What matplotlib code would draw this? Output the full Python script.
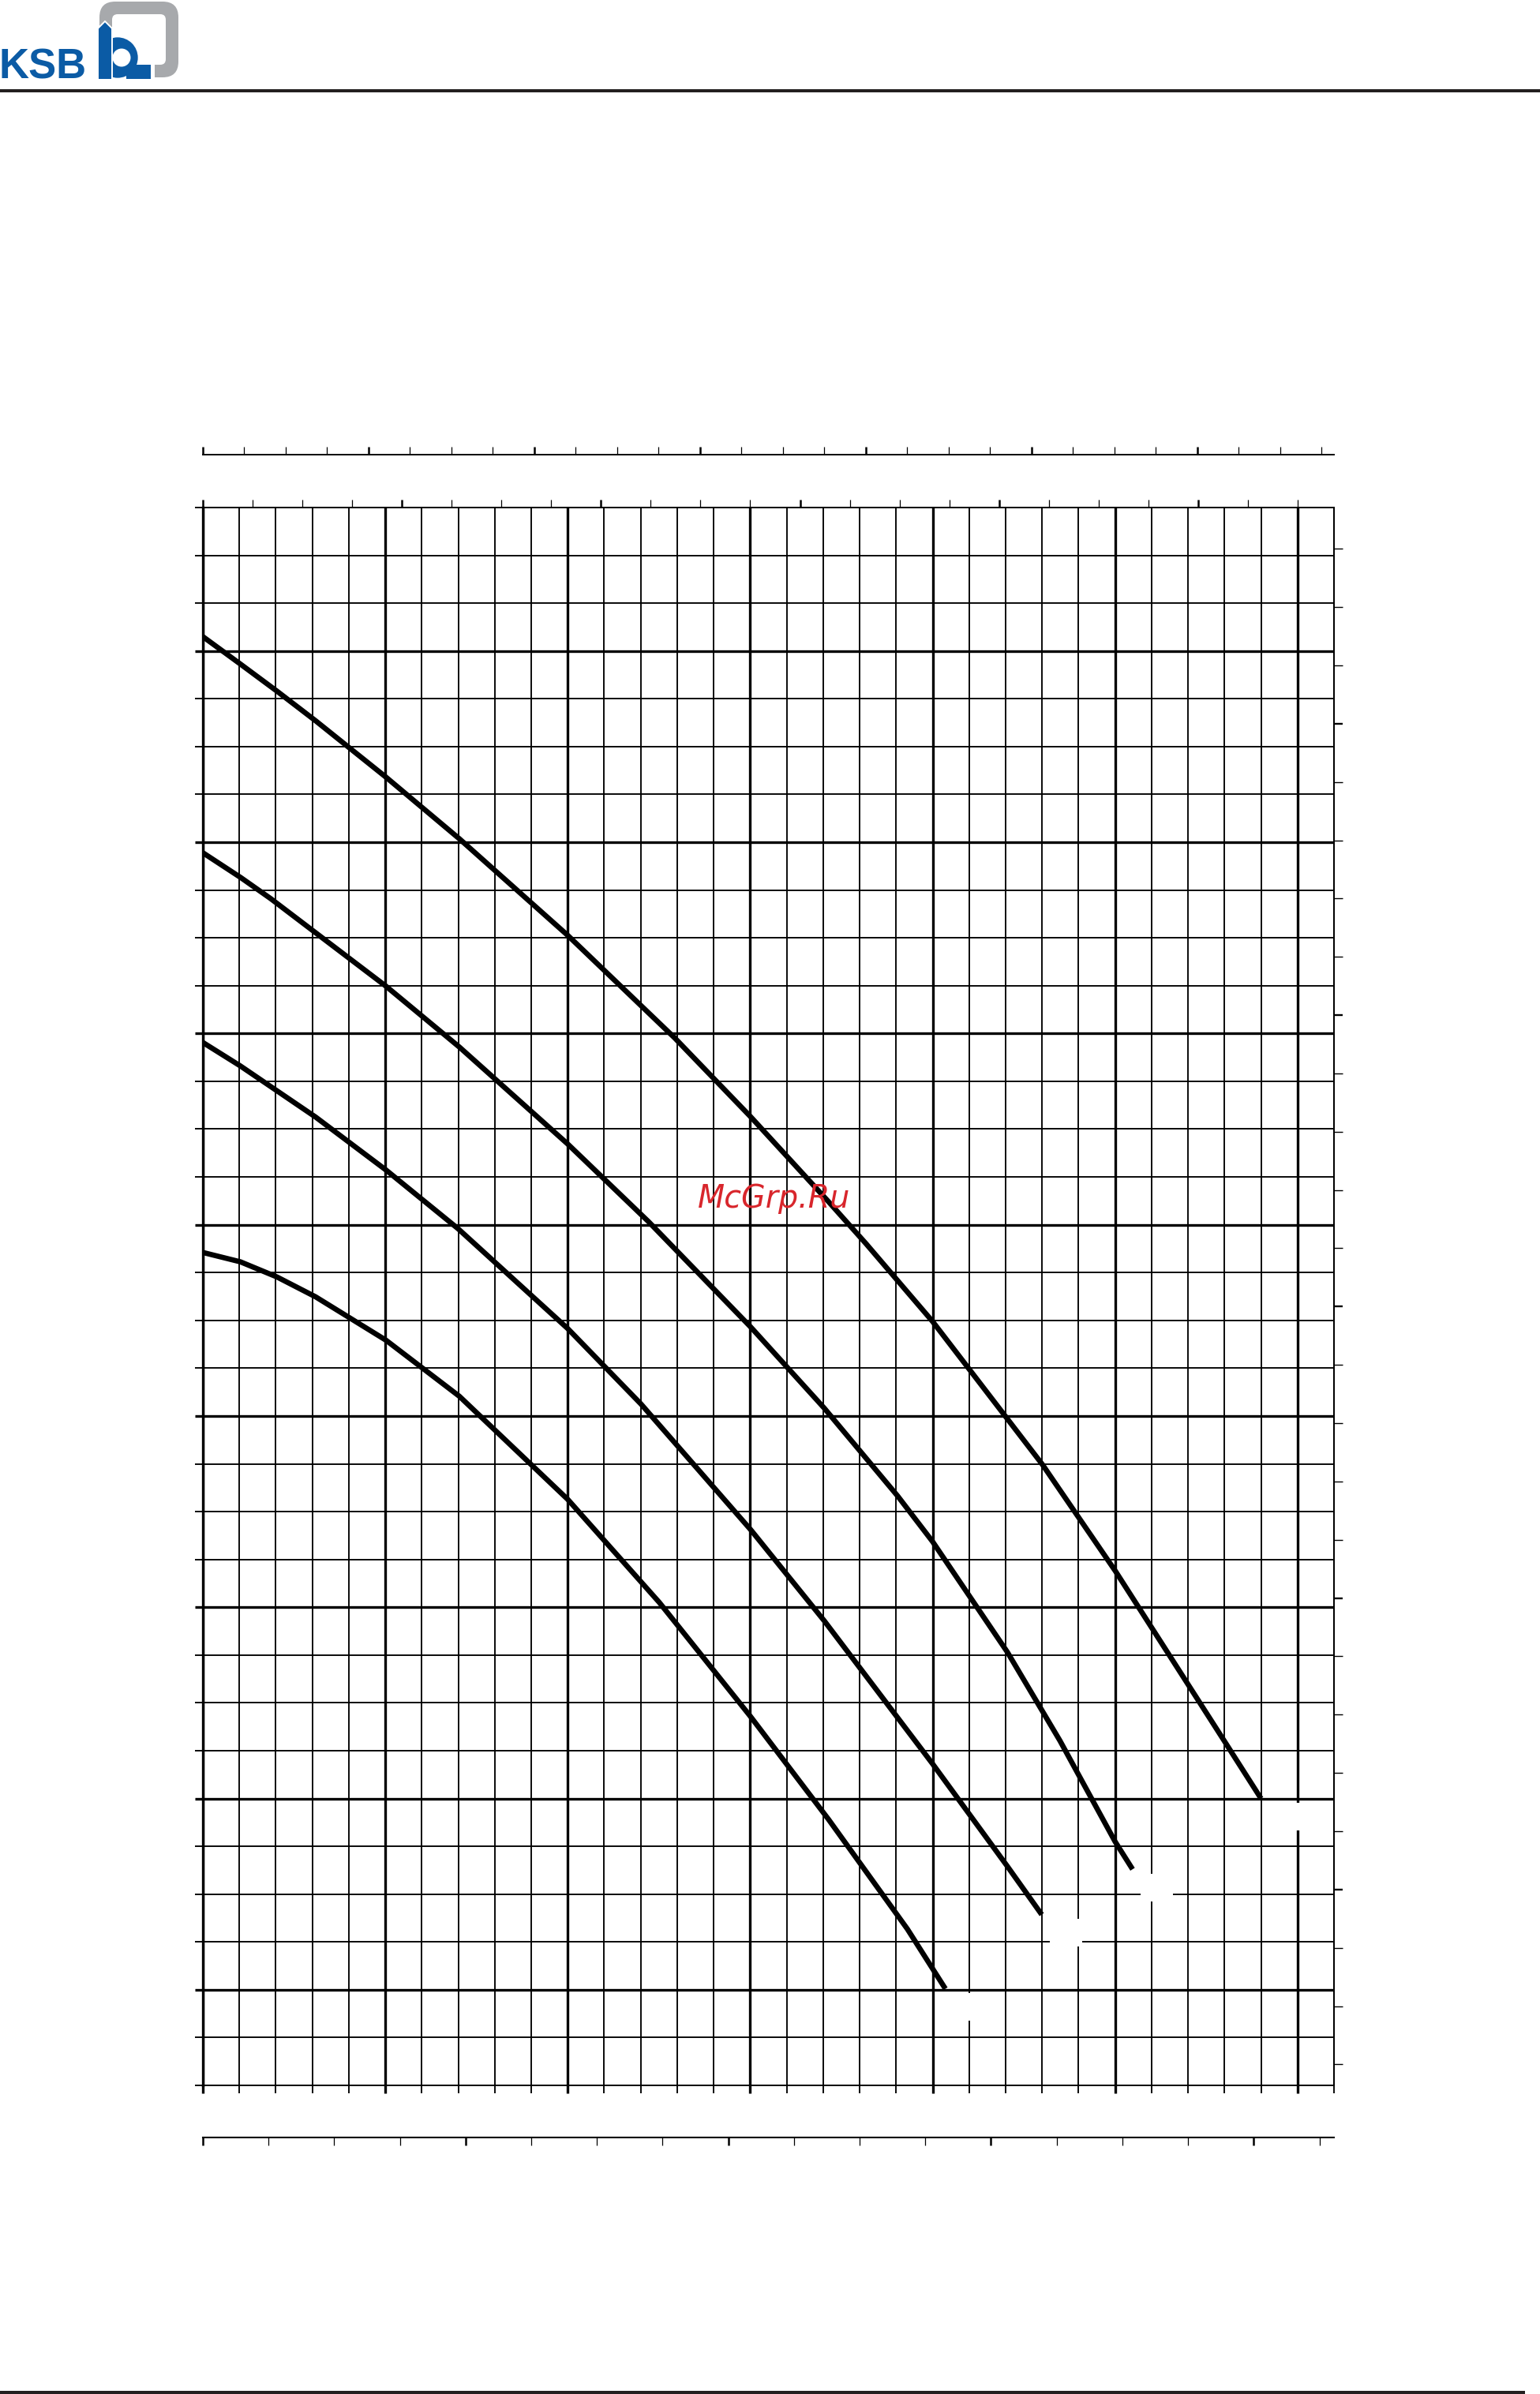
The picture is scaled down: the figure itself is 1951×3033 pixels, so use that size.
import matplotlib
matplotlib.use("Agg")
import matplotlib.pyplot as plt
from matplotlib.patches import Rectangle, FancyBboxPatch, Polygon, Circle

# pump curves, flow Q [m3/h] against head H [m]
q1 = [0, 1.03, 2.03, 3.09, 5.02, 7.03, 10.0, 12.51, 15.02, 17.15, 19.31, 20.35]
h1 = [48.55, 48.06, 47.27, 46.23, 43.96, 41.03, 35.64, 30.25, 24.26, 18.9, 13.17, 10.05]

q2 = [0, 1.03, 3.09, 5.02, 6.99, 10.0, 12.01, 15.02, 17.03, 20.0, 22.05, 22.99]
h2 = [59.53, 58.3, 55.63, 52.86, 49.8, 44.57, 40.62, 34.04, 29.29, 21.81, 16.45, 13.93]

q3 = [0, 1.04, 1.86, 5.02, 7.03, 10.0, 12.22, 15.02, 17.03, 19.04, 20.0, 22.05, 23.49, 25.0, 25.48]
h3 = [69.45, 68.15, 67.05, 62.47, 59.29, 54.22, 50.15, 44.64, 40.41, 35.82, 33.43, 27.65, 23.02, 17.75, 16.3]

q4 = [0, 1.04, 2.03, 3.09, 5.02, 7.03, 10.0, 12.93, 15.02, 16.14, 17.15, 18.17, 20.0, 23.01, 25.02, 27.97, 29.0]
h4 = [80.75, 79.3, 77.9, 76.35, 73.4, 70.18, 65.13, 59.77, 55.63, 53.3, 51.2, 49.02, 44.94, 37.46, 31.86, 23.08, 20.0]

curves = [(q1, h1), (q2, h2), (q3, h3), (q4, h4)]

q_max = 31
h_min, h_max = 5, 87.5

# unit conversions for the extra scales
def m3h_to_usgpm(q): return q * 4.402868
def usgpm_to_m3h(g): return g / 4.402868
def m3h_to_impgpm(q): return q * 3.666154
def impgpm_to_m3h(g): return g / 3.666154
def m3h_to_ls(q): return q / 3.6
def ls_to_m3h(l): return l * 3.6
def m_to_ft(h): return h * 3.28084
def ft_to_m(f): return f / 3.28084

W, H = 1951, 3033
fig = plt.figure(figsize=(W / 100, H / 100), dpi=100)

L, R, T, B = 257, 1690, 643, 2642
ax = fig.add_axes([L / W, (H - B) / H, (R - L) / W, (B - T) / H])
ax.set_xlim(0, q_max)
ax.set_ylim(h_min, h_max)

major_w, minor_w = 2.4, 1.35
ax.set_xticks(range(0, 31, 5))
ax.set_xticks([i for i in range(32) if i % 5], minor=True)
ax.set_yticks(range(10, 81, 10))
ax.set_yticks([h_min + 2.5 * k for k in range(34) if (h_min + 2.5 * k) % 10], minor=True)
ax.grid(which="major", color="black", lw=major_w)
ax.grid(which="minor", color="black", lw=minor_w)
ax.set_axisbelow(True)
ax.tick_params(which="both", direction="out", length=7.2,
               labelbottom=False, labelleft=False, color="black")
ax.tick_params(which="major", width=major_w)
ax.tick_params(which="minor", width=minor_w)
for s in ax.spines.values():
    s.set_linewidth(minor_w)
ax.spines["left"].set_linewidth(major_w)

# blanked label spots next to the curve ends
box_dx, box_dy, box_w, box_h = 0.227, -1.6725, 0.887, 1.445
for q, h in curves:
    ax.add_patch(Rectangle((q[-1] + box_dx, h[-1] + box_dy), box_w, box_h,
                           fc="white", ec="none", zorder=1.5))

for q, h in curves:
    ax.plot(q, h, color="black", lw=4.8, solid_capstyle="butt",
            solid_joinstyle="round", zorder=3)

# extra scales
def style_sec(sa, axis, majors, minors, length, wmaj, wmin, spine_w):
    if axis == "x":
        sa.set_xticks(majors)
        sa.set_xticks(minors, minor=True)
    else:
        sa.set_yticks(majors)
        sa.set_yticks(minors, minor=True)
    sa.tick_params(which="both", direction="out", length=length,
                   labeltop=False, labelbottom=False, labelright=False, labelleft=False)
    sa.tick_params(which="major", width=wmaj)
    sa.tick_params(which="minor", width=wmin)
    for s in sa.spines.values():
        s.set_linewidth(spine_w)

us = ax.secondary_xaxis(1 + 67 / (B - T), functions=(m3h_to_usgpm, usgpm_to_m3h))
style_sec(us, "x", list(range(0, 121, 20)), [g for g in range(0, 136, 5) if g % 20],
          7.2, 1.8, 0.9, 1.4)

imp = ax.secondary_xaxis("top", functions=(m3h_to_impgpm, impgpm_to_m3h))
style_sec(imp, "x", list(range(0, 101, 20)), [g for g in range(0, 111, 5) if g % 20],
          7.2, 1.8, 0.9, minor_w)

ls = ax.secondary_xaxis(-66 / (B - T), functions=(m3h_to_ls, ls_to_m3h))
style_sec(ls, "x", [0, 2, 4, 6, 8], [k * 0.5 for k in range(18) if k % 4],
          7.2, 1.8, 0.9, 1.5)

ft = ax.secondary_yaxis("right", functions=(m_to_ft, ft_to_m))
style_sec(ft, "y", list(range(50, 251, 50)), [f for f in range(20, 281, 10) if f % 50],
          7.9, 1.7, 1.0, minor_w)

# page decoration: header, logo, footer, watermark
ov = fig.add_axes([0, 0, 1, 1])
ov.set_xlim(0, W)
ov.set_ylim(H, 0)
ov.axis("off")
ov.patch.set_visible(False)

dark = "#231f20"
ksb_blue = "#0b5ba5"
ksb_grey = "#a7a9ac"
ov.add_patch(Rectangle((0, 113), W, 4, fc=dark, ec="none"))
ov.add_patch(Rectangle((0, 3029), 1932, 4, fc=dark, ec="none"))

ov.text(-1, 100, "KSB", fontsize=38, fontweight="bold", family="Liberation Sans",
        color=ksb_blue, ha="left", va="baseline")
ov.add_patch(FancyBboxPatch((126, 2), 100, 96, boxstyle="round,pad=0,rounding_size=20",
                            fc=ksb_grey, ec="none"))
ov.add_patch(FancyBboxPatch((142, 18), 68, 64, boxstyle="round,pad=0,rounding_size=7",
                            fc="white", ec="none"))
ov.add_patch(Rectangle((191, 78), 5, 24, fc="white", ec="none"))
ov.add_patch(Circle((149, 73), 26.5, fc=ksb_blue, ec="white", lw=1.2))
ov.add_patch(Rectangle((160, 82), 31, 17.5, fc=ksb_blue, ec="none"))
ov.add_patch(Circle((154, 73), 11.5, fc="white", ec="none"))
ov.add_patch(Polygon([(124, 100), (124, 36), (133, 27), (142, 36), (142, 100)],
                     closed=True, fc=ksb_blue, ec="white", lw=1.4))
ov.add_patch(Rectangle((124.7, 60), 16.6, 40, fc=ksb_blue, ec="none"))

ov.text(981, 1530, "McGrp.Ru", fontsize=28.5, style="italic", color="#d8262c",
        ha="center", va="baseline")

fig.savefig("out.png", dpi=100)
